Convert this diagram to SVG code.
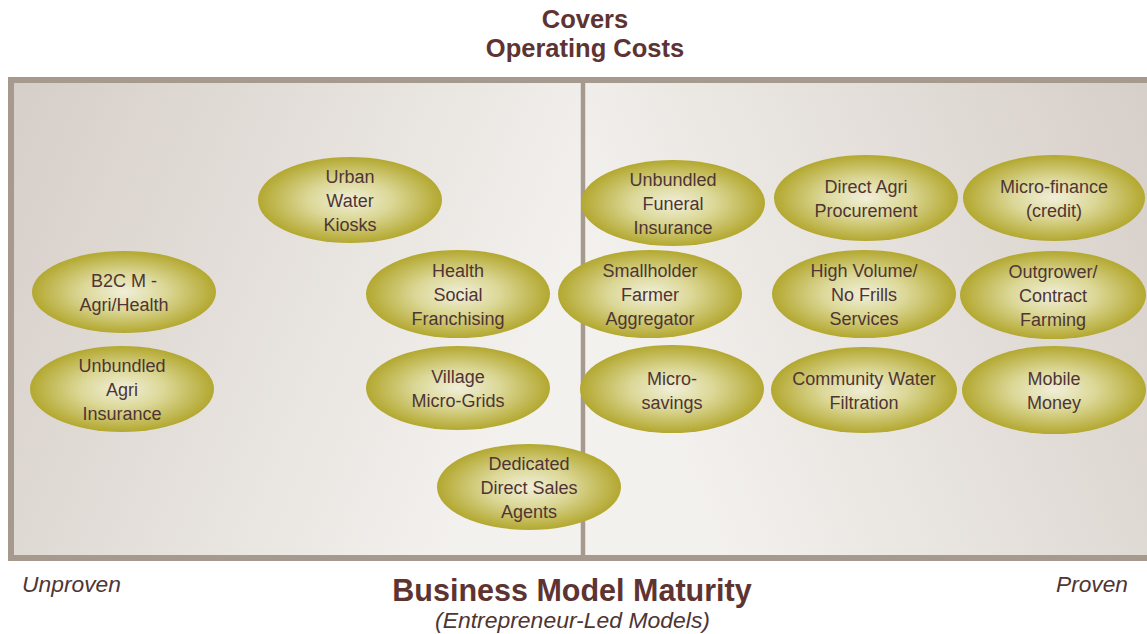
<svg xmlns="http://www.w3.org/2000/svg" width="1147" height="634" viewBox="0 0 1147 634">
<defs>
<linearGradient id="bgL" x1="0" y1="0" x2="1" y2="0.35">
<stop offset="0" stop-color="#d6cec8"/>
<stop offset="1" stop-color="#f3f1ee"/>
</linearGradient>
<linearGradient id="bgR" x1="0" y1="0.35" x2="1" y2="0">
<stop offset="0" stop-color="#f3f1ee"/>
<stop offset="1" stop-color="#d6cec8"/>
</linearGradient>
<radialGradient id="oval" cx="0.5" cy="0.5" r="0.5">
<stop offset="0" stop-color="#f0efd9"/>
<stop offset="0.45" stop-color="#dcd898"/>
<stop offset="1" stop-color="#b3a830"/>
</radialGradient>
<style>
.o{fill:url(#oval);}
.t{font-family:"Liberation Sans",Arial,sans-serif;font-size:18px;fill:#4f3534;text-anchor:middle;}
.h{font-family:"Liberation Sans",Arial,sans-serif;font-weight:bold;fill:#5e3432;text-anchor:middle;}
.i{font-family:"Liberation Sans",Arial,sans-serif;font-style:italic;fill:#4f3534;}
</style>
</defs>
<g id="frame">
<rect x="11" y="80" width="572" height="478" fill="url(#bgL)"/>
<rect x="583" y="80" width="580" height="478" fill="url(#bgR)"/>
<rect x="11" y="80" width="1150" height="478" fill="none" stroke="#a69a8f" stroke-width="6"/>
<line x1="583" y1="80" x2="583" y2="558" stroke="#a69a8f" stroke-width="4.5"/>
</g>
<g id="labels">
<text class="h" x="585" y="28" font-size="25.5">Covers</text>
<text class="h" x="585" y="57" font-size="25.5">Operating Costs</text>
<text class="h" x="572" y="601" font-size="30.5">Business Model Maturity</text>
<text class="i" x="435" y="628" font-size="21.5" textLength="275" lengthAdjust="spacingAndGlyphs">(Entrepreneur-Led Models)</text>
<text class="i" x="22" y="592" font-size="21.5" textLength="99" lengthAdjust="spacingAndGlyphs">Unproven</text>
<text class="i" x="1056" y="592" font-size="21.5" textLength="72" lengthAdjust="spacingAndGlyphs">Proven</text>
</g>
<g id="connectors"/>
<g id="n-urban-water"><ellipse class="o" cx="350" cy="200" rx="92" ry="43"/><text class="t" x="350" y="183">Urban</text><text class="t" x="350" y="207">Water</text><text class="t" x="350" y="231">Kiosks</text></g>
<g id="n-b2c"><ellipse class="o" cx="124" cy="292" rx="92" ry="41"/><text class="t" x="124" y="287">B2C M -</text><text class="t" x="124" y="311">Agri/Health</text></g>
<g id="n-agri-ins"><ellipse class="o" cx="122" cy="389" rx="92" ry="43"/><text class="t" x="122" y="372">Unbundled</text><text class="t" x="122" y="396">Agri</text><text class="t" x="122" y="420">Insurance</text></g>
<g id="n-health"><ellipse class="o" cx="458" cy="294" rx="92" ry="44"/><text class="t" x="458" y="277">Health</text><text class="t" x="458" y="301">Social</text><text class="t" x="458" y="325">Franchising</text></g>
<g id="n-village"><ellipse class="o" cx="458" cy="388" rx="92" ry="42"/><text class="t" x="458" y="383">Village</text><text class="t" x="458" y="407">Micro-Grids</text></g>
<g id="n-dedicated"><ellipse class="o" cx="529" cy="487" rx="92" ry="43"/><text class="t" x="529" y="470">Dedicated</text><text class="t" x="529" y="494">Direct Sales</text><text class="t" x="529" y="518">Agents</text></g>
<g id="n-funeral"><ellipse class="o" cx="673" cy="203" rx="92" ry="43"/><text class="t" x="673" y="186">Unbundled</text><text class="t" x="673" y="210">Funeral</text><text class="t" x="673" y="234">Insurance</text></g>
<g id="n-smallholder"><ellipse class="o" cx="650" cy="294" rx="92" ry="44"/><text class="t" x="650" y="277">Smallholder</text><text class="t" x="650" y="301">Farmer</text><text class="t" x="650" y="325">Aggregator</text></g>
<g id="n-microsavings"><ellipse class="o" cx="672" cy="389" rx="92" ry="44"/><text class="t" x="672" y="385">Micro-</text><text class="t" x="672" y="409">savings</text></g>
<g id="n-direct-agri"><ellipse class="o" cx="866" cy="198" rx="92" ry="43"/><text class="t" x="866" y="193">Direct Agri</text><text class="t" x="866" y="217">Procurement</text></g>
<g id="n-high-volume"><ellipse class="o" cx="864" cy="294" rx="92" ry="44"/><text class="t" x="864" y="277">High Volume/</text><text class="t" x="864" y="301">No Frills</text><text class="t" x="864" y="325">Services</text></g>
<g id="n-community-water"><ellipse class="o" cx="864" cy="390" rx="93" ry="43"/><text class="t" x="864" y="385">Community Water</text><text class="t" x="864" y="409">Filtration</text></g>
<g id="n-microfinance"><ellipse class="o" cx="1054" cy="198" rx="91" ry="43"/><text class="t" x="1054" y="193">Micro-finance</text><text class="t" x="1054" y="217">(credit)</text></g>
<g id="n-outgrower"><ellipse class="o" cx="1053" cy="295" rx="93" ry="44"/><text class="t" x="1053" y="278">Outgrower/</text><text class="t" x="1053" y="302">Contract</text><text class="t" x="1053" y="326">Farming</text></g>
<g id="n-mobile"><ellipse class="o" cx="1054" cy="390" rx="92" ry="44"/><text class="t" x="1054" y="385">Mobile</text><text class="t" x="1054" y="409">Money</text></g>
</svg>
